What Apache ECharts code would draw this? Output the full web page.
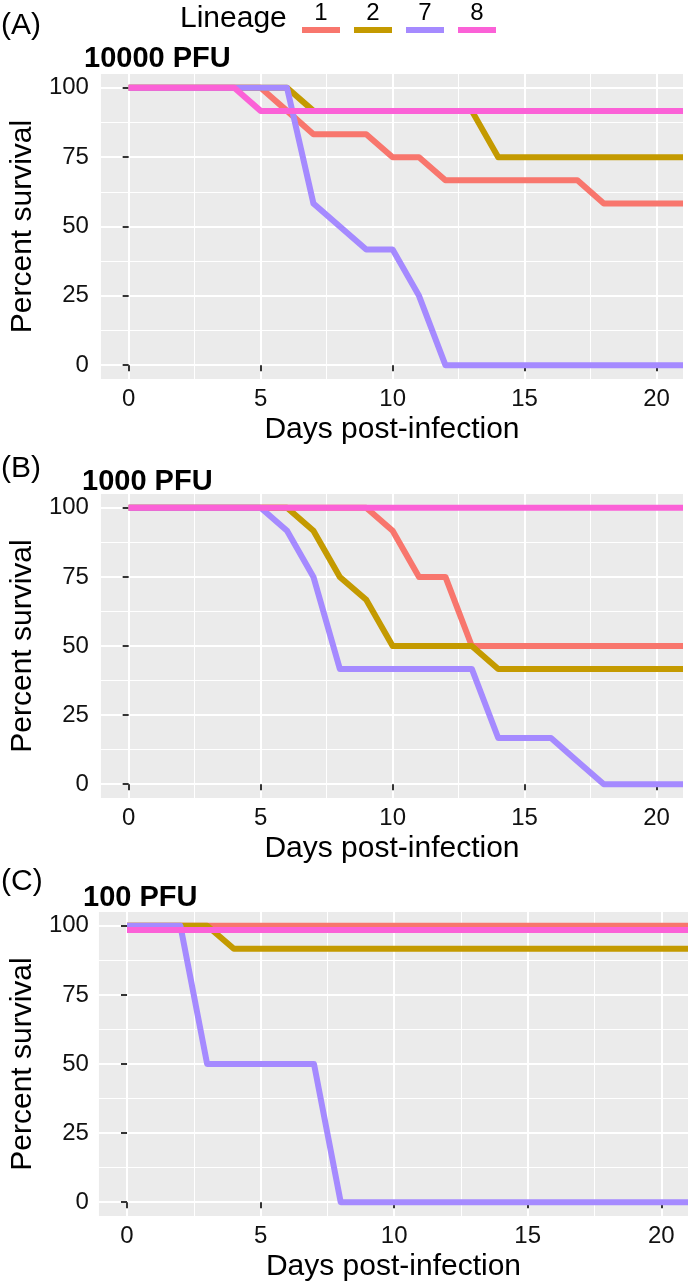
<!DOCTYPE html>
<html>
<head>
<meta charset="utf-8">
<script src="https://cdn.jsdelivr.net/npm/echarts@6/dist/echarts.min.js"></script>
<style>
html,body{margin:0;padding:0;background:#fff;}
#chart{width:688px;height:1288px;}
</style>
</head>
<body>
<div id="chart"></div>
<script>
// ---- data ----
const days = [0,1,2,3,4,5,6,7,8,9,10,11,12,13,14,15,16,17,18,19,20,21];
const lineages = ['1','2','7','8'];
const xTickValues = [0,5,10,15,20];
const xMinorValues = [2.5,7.5,12.5,17.5];
const yTickValues = [0,25,50,75,100];
const yMinorValues = [12.5,37.5,62.5,87.5];
const panelLetters = ['(A)','(B)','(C)'];
const panelTitles = ['10000 PFU','1000 PFU','100 PFU'];

// Panel A: 10000 PFU
const a1 = [100,100,100,100,100,100,91.7,83.3,83.3,83.3,75,75,66.7,66.7,66.7,66.7,66.7,66.7,58.3,58.3,58.3,58.3];
const a2 = [100,100,100,100,100,100,100,91.7,91.7,91.7,91.7,91.7,91.7,91.7,75,75,75,75,75,75,75,75];
const a7 = [100,100,100,100,100,100,100,58.3,50,41.7,41.7,25,0,0,0,0,0,0,0,0,0,0];
const a8 = [100,100,100,100,100,91.7,91.7,91.7,91.7,91.7,91.7,91.7,91.7,91.7,91.7,91.7,91.7,91.7,91.7,91.7,91.7,91.7];
// Panel B: 1000 PFU
const b1 = [100,100,100,100,100,100,100,100,100,100,91.7,75,75,50,50,50,50,50,50,50,50,50];
const b2 = [100,100,100,100,100,100,100,91.7,75,66.7,50,50,50,50,41.7,41.7,41.7,41.7,41.7,41.7,41.7,41.7];
const b7 = [100,100,100,100,100,100,91.7,75,41.7,41.7,41.7,41.7,41.7,41.7,16.7,16.7,16.7,8.3,0,0,0,0];
const b8 = [100,100,100,100,100,100,100,100,100,100,100,100,100,100,100,100,100,100,100,100,100,100];
// Panel C: 100 PFU
const c1 = [100,100,100,100,100,100,100,100,100,100,100,100,100,100,100,100,100,100,100,100,100,100];
const c2 = [100,100,100,100,91.7,91.7,91.7,91.7,91.7,91.7,91.7,91.7,91.7,91.7,91.7,91.7,91.7,91.7,91.7,91.7,91.7,91.7];
const c7 = [100,100,100,50,50,50,50,50,0,0,0,0,0,0,0,0,0,0,0,0,0,0];
const c8 = [98.5,98.5,98.5,98.5,98.5,98.5,98.5,98.5,98.5,98.5,98.5,98.5,98.5,98.5,98.5,98.5,98.5,98.5,98.5,98.5,98.5,98.5];

const panelData = [[a1,a2,a7,a8],[b1,b2,b7,b8],[c1,c2,c7,c8]];

// ---- styles / layout ----
const colors = ['#F8766D','#C49A00','#A58AFF','#FB61D7'];
const FONT = 'Liberation Sans, Arial, Helvetica, sans-serif';
const TXT = '#111111';
const grids = [
  {left:85, top:74, width:598, height:305, labelMargin:12, yNameGap:53},
  {left:85, top:494, width:598, height:304, labelMargin:12, yNameGap:53},
  {left:88, top:912, width:600, height:304, labelMargin:10, yNameGap:56}
];

const option = {
  animation:false,
  backgroundColor:'#ffffff',
  grid:[], xAxis:[], yAxis:[], series:[], graphic:[]
};

grids.forEach((g,i)=>{
  option.grid.push({left:g.left, top:g.top, width:g.width, height:g.height,
    show:true, backgroundColor:'#EBEBEB', borderWidth:0, containLabel:false});
  option.xAxis.push({type:'value', gridIndex:i, min:-1.05, max:21,
    axisLine:{show:false},
    axisTick:{show:true, customValues:xTickValues, length:6, lineStyle:{color:'#333', width:2}},
    axisLabel:{show:true, customValues:xTickValues, margin:8, fontSize:24, fontFamily:FONT, color:TXT},
    splitLine:{show:true, lineStyle:{color:'#ffffff', width:2}},
    name:'Days post-infection', nameLocation:'middle', nameGap:36,
    nameTextStyle:{fontSize:30, fontFamily:FONT, color:'#000'}
  });
  option.xAxis.push({type:'value', gridIndex:i, min:-1.05, max:21,
    axisLine:{show:false},
    axisTick:{show:false, customValues:xMinorValues},
    axisLabel:{show:false, customValues:xMinorValues},
    splitLine:{show:true, lineStyle:{color:'#ffffff', width:1}}
  });
  option.yAxis.push({type:'value', gridIndex:i, min:-5, max:105,
    axisLine:{show:false},
    axisTick:{show:true, customValues:yTickValues, length:6, lineStyle:{color:'#333', width:2}},
    axisLabel:{show:true, customValues:yTickValues, margin:g.labelMargin, fontSize:24, fontFamily:FONT, color:TXT},
    splitLine:{show:true, lineStyle:{color:'#ffffff', width:2}},
    name:'Percent survival', nameLocation:'middle', nameGap:g.yNameGap, nameRotate:90,
    nameTextStyle:{fontSize:30, fontFamily:FONT, color:'#000'}
  });
  option.yAxis.push({type:'value', gridIndex:i, min:-5, max:105,
    axisLine:{show:false},
    axisTick:{show:false, customValues:yMinorValues},
    axisLabel:{show:false, customValues:yMinorValues},
    splitLine:{show:true, lineStyle:{color:'#ffffff', width:1}}
  });
  panelData[i].forEach((vals,k)=>{
    option.series.push({type:'line', name:lineages[k], xAxisIndex:2*i, yAxisIndex:2*i,
      data: days.map((d,j)=>[d, vals[j]]),
      showSymbol:false, symbol:'none', silent:true, clip:true, z:3,
      lineStyle:{color:colors[k], width:6, join:'round', cap:'butt'}
    });
  });
});

// panel letters and titles
const letterY = [26, 469, 882];
const titleY = [59, 482, 898];
const titleX = [84, 82, 83];
panelLetters.forEach((t,i)=>{
  option.graphic.push({type:'text', x:1, y:letterY[i], silent:true,
    style:{text:t, font:'30px '+FONT, fill:'#000', align:'left', verticalAlign:'middle'}});
});
panelTitles.forEach((t,i)=>{
  option.graphic.push({type:'text', x:titleX[i], y:titleY[i], silent:true,
    style:{text:t, font:'bold 29px '+FONT, fill:'#000', align:'left', verticalAlign:'middle'}});
});
// legend
option.graphic.push({type:'text', x:180, y:19, silent:true,
  style:{text:'Lineage', font:'30px '+FONT, fill:'#000', align:'left', verticalAlign:'middle'}});
const keyX = [302, 354, 406, 458];
lineages.forEach((l,k)=>{
  option.graphic.push({type:'line', silent:true,
    shape:{x1:keyX[k], y1:30, x2:keyX[k]+38, y2:30},
    style:{stroke:colors[k], lineWidth:6}});
  option.graphic.push({type:'text', x:keyX[k]+19, y:13, silent:true,
    style:{text:l, font:'24px '+FONT, fill:'#000', align:'center', verticalAlign:'middle'}});
});

const chart = echarts.init(document.getElementById('chart'), null, {renderer:'canvas', width:688, height:1288});
chart.setOption(option);
</script>
</body>
</html>
